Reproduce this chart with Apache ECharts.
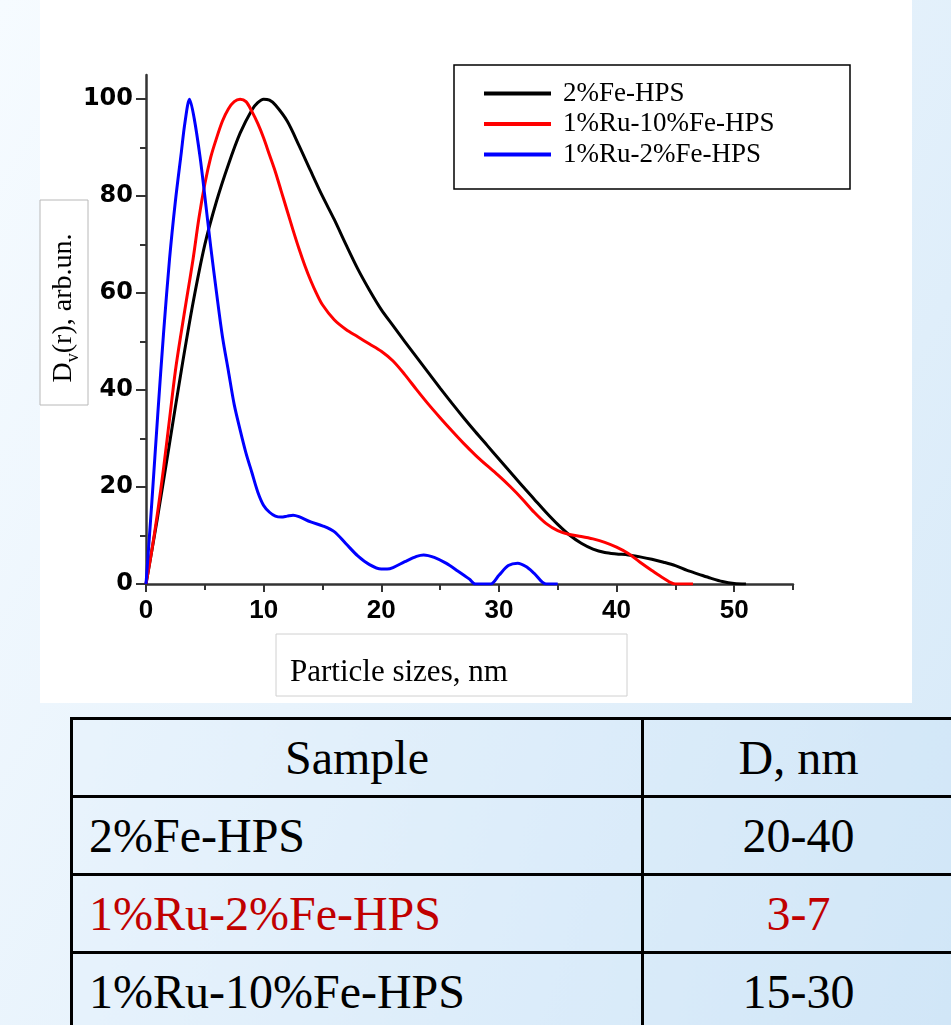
<!DOCTYPE html>
<html>
<head>
<meta charset="utf-8">
<title>Particle size distribution</title>
<script src="https://cdn.jsdelivr.net/npm/echarts@6.0.0/dist/echarts.min.js"></script>
<style>
  html, body {
    margin: 0;
    padding: 0;
    width: 951px;
    height: 1025px;
    overflow: hidden;
  }
  body {
    position: relative;
    background: linear-gradient(120deg, #f6fbff 0%, #e8f3fc 45%, #d6e9f8 100%);
  }
  #panel {
    position: absolute;
    left: 40px;
    top: 0;
    width: 872px;
    height: 703px;
    background: #fff;
  }
  #chart {
    position: absolute;
    left: 0;
    top: 0;
    width: 951px;
    height: 703px;
  }
  #sizes {
    position: absolute;
    left: 70px;
    top: 717px;
    width: 886px;
    border-collapse: collapse;
    font-family: "Liberation Serif", "Times New Roman", serif;
    font-size: 48px;
    background: linear-gradient(100deg, rgba(230,242,252,0.6), rgba(205,228,247,0.6));
  }
  #sizes td, #sizes th {
    border: 3px solid #000;
    font-weight: normal;
    padding: 0;
    line-height: 1;
  }
  #sizes th { height: 75px; }
  #sizes td { height: 75px; }
  #sizes .name { text-align: left; padding-left: 16px; width: 552px; }
  #sizes .val { text-align: center; }
  #sizes .hl { color: #c00000; }
</style>
</head>
<body>
<div id="panel"></div>
<div id="chart"></div>
<table id="sizes"></table>
<script>
// curves: [size nm, Dv(r)]
var fe2Hps = [
  [0, 0], [1, 14], [2, 29], [3, 44], [4, 58], [5, 70], [6, 79], [7, 86.5], [8, 93],
  [9, 97.8], [9.5, 99.3], [10, 100], [10.5, 99.8], [11, 98.8], [12, 95.5], [13, 90.5],
  [14, 85.2], [15, 80], [16, 75.2], [17, 70], [18, 65], [19, 60.6], [20, 56.6],
  [21, 53.3], [22, 50], [23, 46.8], [24, 43.6], [25, 40.4], [26, 37.3], [27, 34.3],
  [28, 31.4], [29, 28.6], [30, 25.8], [31, 23], [32, 20.2], [33, 17.5], [34, 14.8],
  [35, 12.3], [36, 10.1], [37, 8.4], [38, 7.2], [39, 6.5], [40, 6.2], [41, 6],
  [42, 5.6], [43, 5.1], [44, 4.5], [45, 3.8], [46, 2.8], [47, 2], [48, 1.2],
  [49, 0.5], [50, 0.1], [51, 0]
];
var ru1Fe10Hps = [
  [0, 0], [0.5, 7], [1, 15], [1.5, 24], [2, 34], [2.5, 44], [3, 52], [3.5, 59.5],
  [4, 67], [4.5, 75.5], [5, 82.5], [5.5, 88], [6, 92], [6.5, 95.5], [7, 98], [7.5, 99.5],
  [8, 100], [8.5, 99.5], [9, 97.5], [9.5, 95], [10, 92], [10.5, 88.5], [11, 85],
  [11.5, 81], [12, 77], [12.5, 73], [13, 69.2], [13.5, 65.7], [14, 62.6], [14.5, 59.9],
  [15, 57.6], [16, 54.5], [17, 52.5], [18, 51], [19, 49.5], [20, 48], [21, 46],
  [22, 43.2], [23, 40.1], [24, 37.1], [25, 34.3], [26, 31.6], [27, 29], [28, 26.6],
  [29, 24.4], [30, 22.3], [31, 20], [32, 17.5], [33, 14.8], [34, 12.5], [35, 11],
  [36, 10.2], [37, 9.8], [38, 9.3], [39, 8.6], [40, 7.6], [41, 6.3], [42, 4.5],
  [43, 2.8], [44, 1.2], [45, 0], [46.5, 0]
];
var ru1Fe2Hps = [
  [0, 0], [0.5, 17], [1, 35], [1.5, 52], [2, 67], [2.5, 79], [3, 89], [3.3, 95],
  [3.7, 100], [4.1, 96], [4.6, 88], [5, 80], [5.5, 69.6], [6, 60], [6.5, 51], [7, 44],
  [7.5, 37], [8, 31.8], [8.5, 27], [9, 23], [9.5, 19], [10, 16.2], [10.5, 14.8],
  [11, 14], [11.5, 13.8], [12, 14], [12.5, 14.2], [13, 13.9], [14, 12.8], [15, 12],
  [16, 10.8], [17, 8.3], [18, 5.8], [19, 4], [20, 3.1], [20.5, 3.1], [21, 3.4],
  [22, 4.6], [23, 5.7], [23.6, 6], [24.5, 5.5], [25.5, 4.3], [26.5, 2.7], [27.5, 1],
  [28, 0], [29.3, 0], [30, 1.8], [30.8, 3.8], [31.6, 4.3], [32.3, 3.6], [33, 2.2],
  [34, 0], [35, 0]
];

var seriesNames = ["2%Fe-HPS", "1%Ru-10%Fe-HPS", "1%Ru-2%Fe-HPS"];
var seriesColors = ["#000000", "#ff0000", "#0000ff"];

var xTicks = [0, 10, 20, 30, 40, 50];
var xMinorTicks = [5, 15, 25, 35, 45, 55];
var yTicks = [0, 20, 40, 60, 80, 100];
var yMinorTicks = [10, 30, 50, 70, 90];

var tableHead = ["Sample", "D, nm"];
var tableSamples = ["2%Fe-HPS", "1%Ru-2%Fe-HPS", "1%Ru-10%Fe-HPS"];
var tableSizes = ["20-40", "3-7", "15-30"];
var tableHighlight = 1;

function buildTable() {
  var t = document.getElementById("sizes"),
    html = "<tr><th class='name val'>" + tableHead[0] + "</th><th class='val'>" + tableHead[1] + "</th></tr>";
  tableSamples.forEach(function(s, i) {
    var cls = i === tableHighlight ? " hl" : "";
    html += "<tr><td class='name" + cls + "'>" + s + "</td><td class='val" + cls + "'>" + tableSizes[i] + "</td></tr>";
  });
  t.innerHTML = html;
  t.rows[0].cells[0].style.textAlign = "center";
  t.rows[0].cells[0].style.paddingLeft = "0";
}

buildTable();

var chart = echarts.init(document.getElementById("chart"));
var axisColor = "#333";
var serifFont = '"Liberation Serif", "Times New Roman", serif';

var chartOption = {
  animation: false,
  grid: { left: 146, right: 158, top: 75, bottom: 119 },
  xAxis: [
    {
      type: "value",
      min: 0,
      max: 55,
      axisLine: { onZero: false, lineStyle: { color: axisColor, width: 2.5 } },
      axisTick: { customValues: xTicks, length: 8, lineStyle: { color: axisColor, width: 2 } },
      axisLabel: {
        customValues: xTicks,
        margin: 14,
        color: "#000",
        fontFamily: '"Liberation Sans", Arial, sans-serif',
        fontWeight: "bold",
        fontSize: 26
      },
      splitLine: { show: false }
    },
    {
      type: "value",
      position: "bottom",
      min: 0,
      max: 55,
      axisLine: { show: false, onZero: false },
      axisTick: { customValues: xMinorTicks, length: 6, lineStyle: { color: axisColor, width: 2 } },
      axisLabel: { show: false },
      splitLine: { show: false }
    }
  ],
  yAxis: [
    {
      type: "value",
      min: 0,
      max: 105,
      axisLine: { show: true, onZero: false, lineStyle: { color: axisColor, width: 2.5 } },
      axisTick: { show: true, customValues: yTicks, length: 10, lineStyle: { color: axisColor, width: 2 } },
      axisLabel: {
        customValues: yTicks,
        margin: 13,
        color: "#000",
        fontFamily: '"DejaVu Sans", sans-serif',
        fontWeight: "bold",
        fontSize: 24
      },
      splitLine: { show: false }
    },
    {
      type: "value",
      position: "left",
      min: 0,
      max: 105,
      axisLine: { show: false, onZero: false },
      axisTick: { show: true, customValues: yMinorTicks, length: 6, lineStyle: { color: axisColor, width: 2 } },
      axisLabel: { show: false },
      splitLine: { show: false }
    }
  ],
  legend: {
    orient: "vertical",
    left: 484,
    top: 80,
    padding: 0,
    itemGap: 3.5,
    itemWidth: 67,
    itemHeight: 4,
    icon: "rect",
    data: seriesNames,
    textStyle: {
      fontFamily: serifFont,
      fontSize: 27,
      lineHeight: 26,
      color: "#000",
      padding: [0, 0, 0, 7]
    }
  },
  graphic: [
    {
      type: "rect",
      shape: { x: 454, y: 65, width: 396, height: 124 },
      style: { fill: "none", stroke: "#000", lineWidth: 1.5 },
      z: 10
    },
    {
      type: "rect",
      shape: { x: 40, y: 200, width: 48, height: 205 },
      style: { fill: "#fff", stroke: "#b8b8b8", lineWidth: 1 },
      z: 1
    },
    {
      type: "text",
      x: 64,
      y: 308,
      rotation: Math.PI / 2,
      z: 2,
      style: {
        text: "{d|D}{s|v}{d|(r), arb.un.}",
        align: "center",
        verticalAlign: "middle",
        fill: "#000",
        rich: {
          d: { fontFamily: serifFont, fontSize: 28, lineHeight: 36, fill: "#000" },
          s: { fontFamily: serifFont, fontSize: 18, lineHeight: 19, verticalAlign: "bottom", fill: "#000" }
        }
      }
    },
    {
      type: "rect",
      shape: { x: 276, y: 634, width: 351, height: 62 },
      style: { fill: "#fff", stroke: "#d0d0d0", lineWidth: 1 },
      z: 1
    },
    {
      type: "text",
      x: 290,
      y: 673,
      z: 2,
      style: {
        text: "Particle sizes, nm",
        fontFamily: serifFont,
        fontSize: 31,
        fill: "#000",
        verticalAlign: "middle"
      }
    }
  ],
  series: [
    { name: seriesNames[0], data: fe2Hps },
    { name: seriesNames[1], data: ru1Fe10Hps },
    { name: seriesNames[2], data: ru1Fe2Hps }
  ].map(function(s, i) {
    return {
      type: "line",
      name: s.name,
      data: s.data,
      xAxisIndex: 0,
      yAxisIndex: 0,
      showSymbol: false,
      smooth: 0.3,
      color: seriesColors[i],
      lineStyle: { color: seriesColors[i], width: 3 }
    };
  })
};

chart.setOption(chartOption);
</script>
</body>
</html>
